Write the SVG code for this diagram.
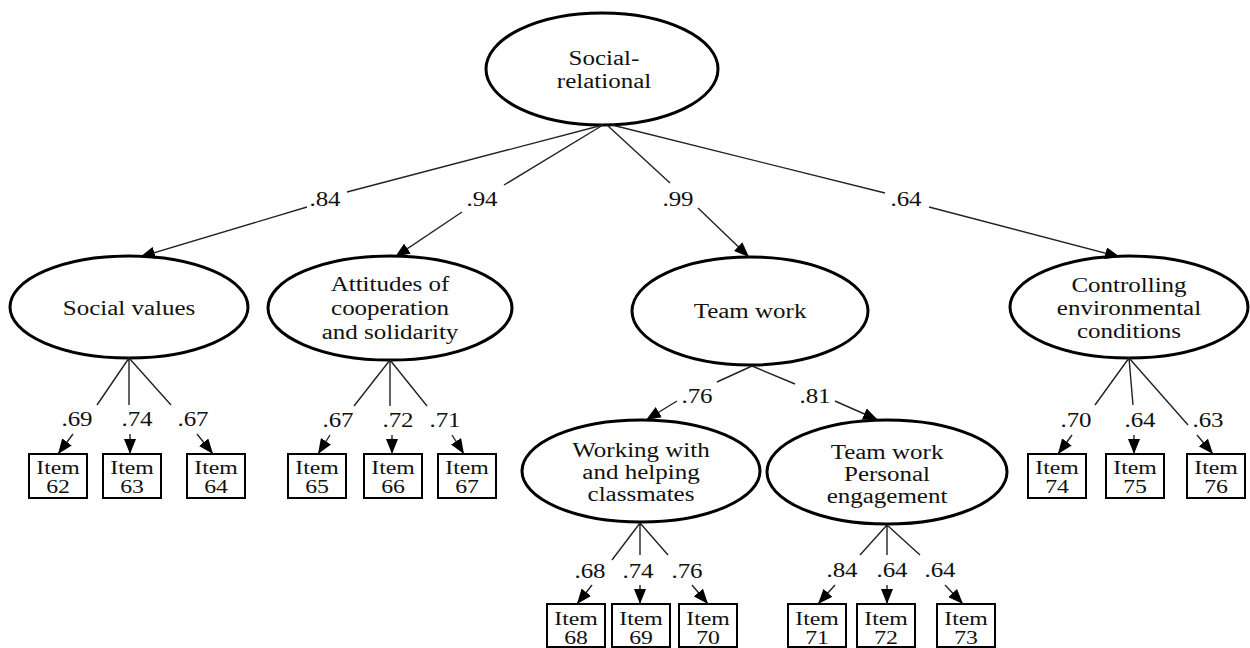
<svg xmlns="http://www.w3.org/2000/svg" width="1250" height="648" viewBox="0 0 1250 648" font-family="'Liberation Serif', 'DejaVu Serif', serif">
<style>
.e{fill:#fff;stroke:#000;stroke-width:3}
.b{fill:#fff;stroke:#000;stroke-width:2}
.c{stroke:#222;stroke-width:1.4;fill:none}
.a{stroke:#222;stroke-width:1.4;fill:none;marker-end:url(#ah)}
text{font-family:'Liberation Serif','DejaVu Serif',serif;font-size:20px;text-anchor:middle;fill:#111}
text.i{font-size:19px}
</style>
<defs>
<marker id="ah" viewBox="0 0 10 10" refX="10" refY="5" markerWidth="15" markerHeight="12" markerUnits="userSpaceOnUse" orient="auto" preserveAspectRatio="none"><path d="M0,0 L10,5 L0,10 z" fill="#000"/></marker>
</defs>
<g id="n-social-relational"><ellipse class="e" cx="602" cy="69" rx="116" ry="56"/><text transform="translate(604 65) scale(1.25 1)"><tspan x="0">Social-</tspan><tspan x="0" dy="23">relational</tspan></text></g>
<g id="n-social-values"><ellipse class="e" cx="129" cy="307" rx="119" ry="51"/><text transform="translate(129 315) scale(1.25 1)">Social values</text></g>
<g id="n-attitudes"><ellipse class="e" cx="390" cy="308" rx="122" ry="52"/><text transform="translate(390 291) scale(1.25 1)"><tspan x="0">Attitudes of</tspan><tspan x="0" dy="24">cooperation</tspan><tspan x="0" dy="24">and solidarity</tspan></text></g>
<g id="n-team-work"><ellipse class="e" cx="750" cy="311" rx="118" ry="54"/><text transform="translate(750 318) scale(1.25 1)">Team work</text></g>
<g id="n-controlling"><ellipse class="e" cx="1129" cy="307" rx="119" ry="51"/><text transform="translate(1129 292) scale(1.25 1)"><tspan x="0">Controlling</tspan><tspan x="0" dy="23">environmental</tspan><tspan x="0" dy="23">conditions</tspan></text></g>
<g id="n-working"><ellipse class="e" cx="641" cy="471" rx="119" ry="51"/><text transform="translate(641 457) scale(1.25 1)"><tspan x="0">Working with</tspan><tspan x="0" dy="22">and helping</tspan><tspan x="0" dy="22">classmates</tspan></text></g>
<g id="n-twpe"><ellipse class="e" cx="887" cy="472" rx="120" ry="52"/><text transform="translate(887 459) scale(1.25 1)"><tspan x="0">Team work</tspan><tspan x="0" dy="22">Personal</tspan><tspan x="0" dy="22">engagement</tspan></text></g>
<g id="item62"><rect class="b" x="29" y="454" width="58" height="44"/><text class="i" transform="translate(58 474) scale(1.25 1)"><tspan x="0">Item</tspan><tspan x="0" dy="19">62</tspan></text></g>
<g id="item63"><rect class="b" x="103" y="454" width="58" height="44"/><text class="i" transform="translate(132 474) scale(1.25 1)"><tspan x="0">Item</tspan><tspan x="0" dy="19">63</tspan></text></g>
<g id="item64"><rect class="b" x="187" y="454" width="58" height="44"/><text class="i" transform="translate(216 474) scale(1.25 1)"><tspan x="0">Item</tspan><tspan x="0" dy="19">64</tspan></text></g>
<g id="item65"><rect class="b" x="288" y="454" width="58" height="44"/><text class="i" transform="translate(317 474) scale(1.25 1)"><tspan x="0">Item</tspan><tspan x="0" dy="19">65</tspan></text></g>
<g id="item66"><rect class="b" x="364" y="454" width="58" height="44"/><text class="i" transform="translate(393 474) scale(1.25 1)"><tspan x="0">Item</tspan><tspan x="0" dy="19">66</tspan></text></g>
<g id="item67"><rect class="b" x="438" y="454" width="58" height="44"/><text class="i" transform="translate(467 474) scale(1.25 1)"><tspan x="0">Item</tspan><tspan x="0" dy="19">67</tspan></text></g>
<g id="item74"><rect class="b" x="1028" y="454" width="58" height="44"/><text class="i" transform="translate(1057 474) scale(1.25 1)"><tspan x="0">Item</tspan><tspan x="0" dy="19">74</tspan></text></g>
<g id="item75"><rect class="b" x="1106" y="454" width="58" height="44"/><text class="i" transform="translate(1135 474) scale(1.25 1)"><tspan x="0">Item</tspan><tspan x="0" dy="19">75</tspan></text></g>
<g id="item76"><rect class="b" x="1187" y="454" width="58" height="44"/><text class="i" transform="translate(1216 474) scale(1.25 1)"><tspan x="0">Item</tspan><tspan x="0" dy="19">76</tspan></text></g>
<g id="item68"><rect class="b" x="547" y="604" width="58" height="43"/><text class="i" transform="translate(576 625) scale(1.25 1)"><tspan x="0">Item</tspan><tspan x="0" dy="19">68</tspan></text></g>
<g id="item69"><rect class="b" x="612" y="604" width="58" height="43"/><text class="i" transform="translate(641 625) scale(1.25 1)"><tspan x="0">Item</tspan><tspan x="0" dy="19">69</tspan></text></g>
<g id="item70"><rect class="b" x="679" y="604" width="58" height="43"/><text class="i" transform="translate(708 625) scale(1.25 1)"><tspan x="0">Item</tspan><tspan x="0" dy="19">70</tspan></text></g>
<g id="item71"><rect class="b" x="788" y="604" width="58" height="43"/><text class="i" transform="translate(817 625) scale(1.25 1)"><tspan x="0">Item</tspan><tspan x="0" dy="19">71</tspan></text></g>
<g id="item72"><rect class="b" x="857" y="604" width="58" height="43"/><text class="i" transform="translate(886 625) scale(1.25 1)"><tspan x="0">Item</tspan><tspan x="0" dy="19">72</tspan></text></g>
<g id="item73"><rect class="b" x="937" y="604" width="58" height="43"/><text class="i" transform="translate(966 625) scale(1.25 1)"><tspan x="0">Item</tspan><tspan x="0" dy="19">73</tspan></text></g>
<g id="connectors">
<path class="c" d="M603,125 L347,192"/><text transform="translate(325 206) scale(1.25 1)">.84</text><path class="a" d="M307,207 L140,257"/>
<path class="c" d="M603,125 L504,185"/><text transform="translate(482 206) scale(1.25 1)">.94</text><path class="a" d="M462,212 L395,257"/>
<path class="c" d="M607,125 L670,183"/><text transform="translate(678 206) scale(1.25 1)">.99</text><path class="a" d="M698,208 L749,257"/>
<path class="c" d="M612,125 L885,193"/><text transform="translate(906 206) scale(1.25 1)">.64</text><path class="a" d="M929,207 L1120,257"/>
<path class="c" d="M129,358 L97,405 M129,358 L129,405 M129,358 L171,405"/>
<text transform="translate(77 426) scale(1.25 1)">.69</text><text transform="translate(137 426) scale(1.25 1)">.74</text><text transform="translate(193 426) scale(1.25 1)">.67</text>
<path class="a" d="M73,434 L58,454"/><path class="a" d="M130,434 L130,454"/><path class="a" d="M197,434 L213,454"/>
<path class="c" d="M390,360 L354,406 M390,360 L390,406 M390,360 L427,406"/>
<text transform="translate(338 427) scale(1.25 1)">.67</text><text transform="translate(398 427) scale(1.25 1)">.72</text><text transform="translate(445 427) scale(1.25 1)">.71</text>
<path class="a" d="M330,435 L318,454"/><path class="a" d="M392,435 L392,454"/><path class="a" d="M452,435 L464,454"/>
<path class="c" d="M1129,358 L1095,405 M1129,358 L1133,405 M1129,358 L1188,425"/>
<text transform="translate(1076 427) scale(1.25 1)">.70</text><text transform="translate(1140 427) scale(1.25 1)">.64</text><text transform="translate(1208 427) scale(1.25 1)">.63</text>
<path class="a" d="M1072,435 L1058,454"/><path class="a" d="M1134,435 L1134,454"/><path class="a" d="M1197,435 L1213,454"/>
<path class="c" d="M752,366 L717,382 M752,366 L795,384"/>
<text transform="translate(697 403) scale(1.25 1)">.76</text><text transform="translate(815 403) scale(1.25 1)">.81</text>
<path class="a" d="M677,401 L646,420"/><path class="a" d="M835,401 L878,420"/>
<path class="c" d="M640,523 L612,560 M640,523 L640,555 M640,523 L668,555"/>
<text transform="translate(590 578) scale(1.25 1)">.68</text><text transform="translate(638 578) scale(1.25 1)">.74</text><text transform="translate(687 578) scale(1.25 1)">.76</text>
<path class="a" d="M592,585 L577,604"/><path class="a" d="M640,585 L640,604"/><path class="a" d="M692,585 L708,604"/>
<path class="c" d="M887,525 L860,555 M887,525 L887,555 M887,525 L920,555"/>
<text transform="translate(842 577) scale(1.25 1)">.84</text><text transform="translate(892 577) scale(1.25 1)">.64</text><text transform="translate(940 577) scale(1.25 1)">.64</text>
<path class="a" d="M835,585 L818,604"/><path class="a" d="M887,585 L887,604"/><path class="a" d="M945,585 L963,604"/>
</g>
</svg>
